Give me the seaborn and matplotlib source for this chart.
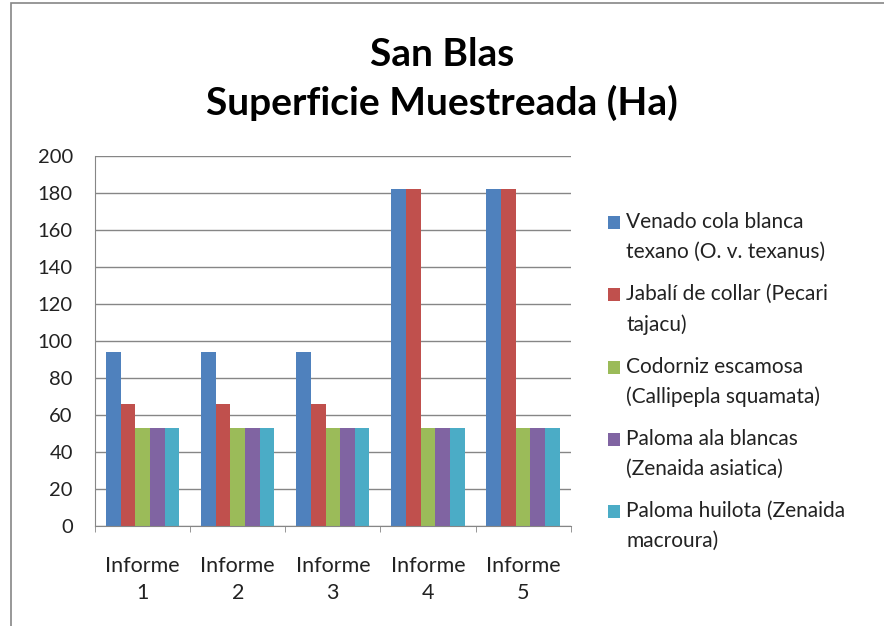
import numpy as np
import pandas as pd
import matplotlib
matplotlib.use("Agg")
import matplotlib.pyplot as plt
import seaborn as sns
from matplotlib.patches import Rectangle

# data
informes = ["Informe\n1", "Informe\n2", "Informe\n3", "Informe\n4", "Informe\n5"]
especies = [
    "Venado cola blanca\ntexano (O. v. texanus)",
    "Jabalí de collar (Pecari\ntajacu)",
    "Codorniz escamosa\n(Callipepla squamata)",
    "Paloma ala blancas\n(Zenaida asiatica)",
    "Paloma huilota (Zenaida\nmacroura)",
]
venado = [94, 94, 94, 182, 182]
jabali = [66, 66, 66, 182, 182]
codorniz = [53, 53, 53, 53, 53]
paloma_ala = [53, 53, 53, 53, 53]
huilota = [53, 53, 53, 53, 53]
colores = ["#4F81BD", "#C0504D", "#9BBB59", "#8064A2", "#4BACC6"]

df = pd.DataFrame({
    "informe": informes * 5,
    "especie": np.repeat(especies, 5),
    "ha": venado + jabali + codorniz + paloma_ala + huilota,
})

sns.set_style("white")
plt.rcParams["font.family"] = ["Lato", "DejaVu Sans"]

fig = plt.figure(figsize=(8.84, 6.26), dpi=100)
ax = fig.add_axes([0.1075, 0.16, 0.538, 0.591])

sns.barplot(data=df, x="informe", y="ha", hue="especie", palette=colores,
            width=0.77, gap=0, ax=ax, saturation=1, linewidth=0)

ax.set_ylim(0, 200)
ax.set_yticks(range(0, 201, 20))
ax.yaxis.grid(True, color="#868686", linewidth=1)
ax.set_axisbelow(True)
ax.set_xlabel("")
ax.set_ylabel("")
for s in ["top", "right"]:
    ax.spines[s].set_visible(False)
for s in ["left", "bottom"]:
    ax.spines[s].set_color("#868686")
ax.tick_params(axis="y", labelsize=14.5, length=0, pad=16, labelcolor="#222222")
ax.tick_params(axis="x", labelsize=15.5, length=0, pad=22, labelcolor="#222222")
ax.set_xticks(np.arange(-0.5, 5, 1), minor=True)
ax.tick_params(axis="x", which="minor", length=4, color="#868686", bottom=True)
for lbl in ax.get_xticklabels():
    lbl.set_linespacing(1.4)

handles, labels = ax.get_legend_handles_labels()
leg = ax.legend(handles, labels, loc="center left", bbox_to_anchor=(1.04, 0.39),
                frameon=False, fontsize=15, labelspacing=1.05, handlelength=0.55,
                handleheight=0.55, handletextpad=0.3)
for t in leg.get_texts():
    t.set_linespacing(1.62)
    t.set_color("#222222")
# put each legend square next to the first line of its label, as in Excel
for p in leg.get_patches():
    p.set_y(p.get_y() + 11)

fig.text(0.5, 0.874, "San Blas\nSuperficie Muestreada (Ha)", ha="center", va="center",
         fontsize=28, fontweight="bold", linespacing=1.42, color="black")

fig.patches.append(Rectangle((0.012, -0.02), 1.0, 1.015, transform=fig.transFigure,
                             fill=False, edgecolor="#868686", linewidth=1.2))

fig.savefig("out.png", dpi=100)
